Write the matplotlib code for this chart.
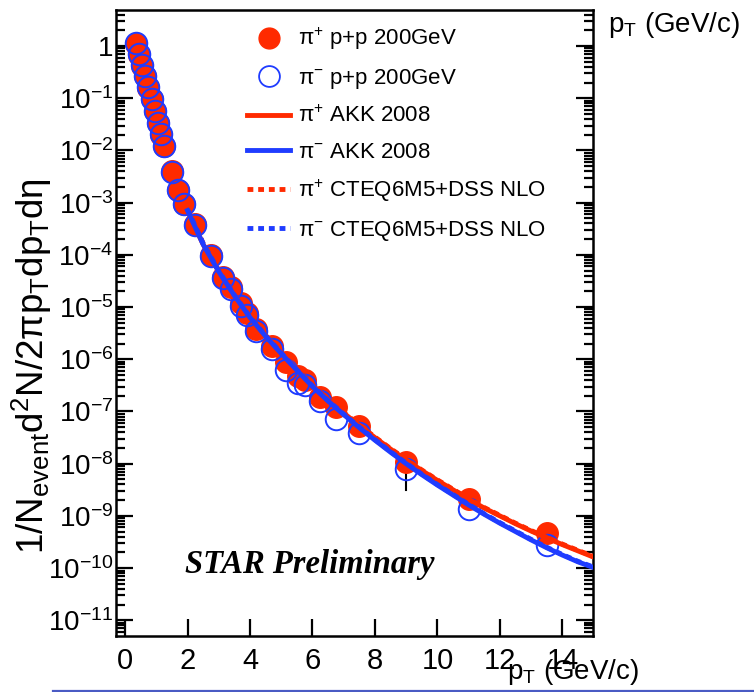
import numpy as np
import matplotlib
matplotlib.use("Agg")
import matplotlib.pyplot as plt
from matplotlib.lines import Line2D
from matplotlib.ticker import FixedLocator, FuncFormatter, LogLocator, NullFormatter

plt.rcParams['font.family'] = ['Liberation Sans', 'DejaVu Sans']
plt.rcParams['mathtext.fontset'] = 'custom'
plt.rcParams['mathtext.rm'] = 'Liberation Sans'
plt.rcParams['mathtext.it'] = 'Liberation Sans:italic'
plt.rcParams['mathtext.bf'] = 'Liberation Sans:bold'

# ---------------- data ----------------
pt_data = [0.35, 0.45, 0.55, 0.65, 0.75, 0.85, 0.95, 1.05, 1.15, 1.25,
           1.5, 1.7, 1.9, 2.25, 2.75, 3.15, 3.4, 3.7, 3.9, 4.2,
           4.7, 5.15, 5.55, 5.75, 6.25, 6.75, 7.5, 9.0, 11.0, 13.5]
log_piplus = [0.04, -0.17, -0.38, -0.58, -0.80, -1.02, -1.25, -1.48, -1.70, -1.92,
              -2.40, -2.75, -3.02, -3.40, -4.00, -4.42, -4.62, -4.93, -5.12, -5.42,
              -5.74, -6.06, -6.32, -6.40, -6.72, -6.92, -7.28, -7.97, -8.67, -9.32]
log_piminus = [0.06, -0.15, -0.37, -0.57, -0.79, -1.01, -1.24, -1.47, -1.69, -1.91,
               -2.42, -2.76, -3.03, -3.42, -4.02, -4.45, -4.66, -4.97, -5.16, -5.46,
               -5.80, -6.20, -6.45, -6.50, -6.80, -7.15, -7.42, -8.10, -8.86, -9.56]
# lower end of the one visible error bar (pi+ at 9 GeV/c)
err_pt = [9.0]
err_log_low = [-8.50]

pt_theory = [2.0, 2.5, 3.0, 3.5, 4.0, 4.5, 5.0, 5.5, 6.0, 6.5, 7.0, 7.5, 8.0, 8.5,
             9.0, 9.5, 10.0, 10.5, 11.0, 11.5, 12.0, 12.5, 13.0, 13.5, 14.0, 14.5, 15.0]
log_akk_plus = [-3.15, -3.80, -4.32, -4.78, -5.20, -5.55, -5.88, -6.20, -6.50, -6.78,
                -7.03, -7.27, -7.50, -7.72, -7.93, -8.13, -8.32, -8.50, -8.68, -8.85,
                -9.00, -9.15, -9.29, -9.42, -9.55, -9.67, -9.79]
log_akk_minus = [-3.15, -3.80, -4.32, -4.78, -5.20, -5.56, -5.89, -6.21, -6.52, -6.80,
                 -7.06, -7.31, -7.55, -7.78, -8.00, -8.21, -8.41, -8.60, -8.79, -8.97,
                 -9.14, -9.30, -9.46, -9.61, -9.75, -9.88, -9.99]
log_cteq_plus = [-3.13, -3.78, -4.30, -4.76, -5.18, -5.54, -5.87, -6.19, -6.49, -6.77,
                 -7.02, -7.26, -7.49, -7.71, -7.92, -8.12, -8.31, -8.49, -8.67, -8.84,
                 -8.99, -9.14, -9.28, -9.41, -9.54, -9.66, -9.78]
log_cteq_minus = [-3.13, -3.78, -4.31, -4.77, -5.19, -5.55, -5.88, -6.20, -6.51, -6.79,
                  -7.05, -7.30, -7.54, -7.77, -7.99, -8.20, -8.40, -8.59, -8.78, -8.96,
                  -9.13, -9.29, -9.45, -9.60, -9.74, -9.87, -9.98]

legend_labels = [r"π$^{+}$ p+p 200GeV", r"π$^{-}$ p+p 200GeV", r"π$^{+}$ AKK 2008",
                 r"π$^{-}$ AKK 2008", r"π$^{+}$ CTEQ6M5+DSS NLO", r"π$^{-}$ CTEQ6M5+DSS NLO"]
xticks = [0, 2, 4, 6, 8, 10, 12, 14]

RED = '#ff2a00'
BLUE = '#1f3cff'

W, H = 754, 692
fig = plt.figure(figsize=(W / 100, H / 100), dpi=100)
L, R, T, B = 116, 593, 10, 636
ax = fig.add_axes([L / W, 1 - B / H, (R - L) / W, (B - T) / H])

y_plus = 10.0 ** np.array(log_piplus)
y_minus = 10.0 ** np.array(log_piminus)

# error bar
for p, lo in zip(err_pt, err_log_low):
    idx = pt_data.index(p)
    ax.plot([p, p], [10.0 ** lo, y_plus[idx]], color='black', lw=1.5, zorder=1)

ax.plot(pt_data, y_plus, 'o', ms=15.5, mfc=RED, mec=RED, mew=1.0, zorder=2)
ax.plot(pt_data, y_minus, 'o', ms=15.5, mfc='none', mec=BLUE, mew=1.4, zorder=3)

dot = (0, (1.2, 1.0))
ax.plot(pt_theory, 10.0 ** np.array(log_cteq_plus), color=RED, lw=3.5, ls=dot, zorder=4)
ax.plot(pt_theory, 10.0 ** np.array(log_akk_plus), color=RED, lw=3.5, zorder=4)
ax.plot(pt_theory, 10.0 ** np.array(log_cteq_minus), color=BLUE, lw=3.5, ls=dot, zorder=5)
ax.plot(pt_theory, 10.0 ** np.array(log_akk_minus), color=BLUE, lw=3.5, zorder=5)

ax.set_yscale('log')
ax.set_xlim(-0.29, 14.98)
ax.set_ylim(10 ** -11.30, 10 ** 0.69)

ax.xaxis.set_major_locator(FixedLocator(xticks))
ax.yaxis.set_major_locator(LogLocator(base=10, numticks=30))
ax.yaxis.set_minor_locator(LogLocator(base=10, subs=np.arange(2, 10), numticks=30))
ax.yaxis.set_minor_formatter(NullFormatter())


def yfmt(v, pos):
    n = int(round(np.log10(v)))
    if n == 0:
        return '1'
    return r'10$^{%d}$' % n


ax.yaxis.set_major_formatter(FuncFormatter(yfmt))
ax.tick_params(axis='both', which='both', direction='in', width=1.6)
ax.tick_params(axis='y', which='major', length=12, labelsize=20, left=True, right=True, pad=2)
ax.tick_params(axis='y', which='minor', length=6.5, left=True, right=True)
ax.tick_params(axis='x', which='major', length=12, labelsize=21, top=False, pad=8)
for s in ax.spines.values():
    s.set_linewidth(1.8)

ax.set_ylabel(r"1/N$_{\rm event}$d$^{2}$N/2πp$_{\rm T}$dp$_{\rm T}$dη", fontsize=26.5)
ax.yaxis.set_label_coords((54 - L) / (R - L), 1 - (366 - T) / (B - T))

handles = [
    Line2D([], [], ls='none', marker='o', ms=15, mfc=RED, mec=RED),
    Line2D([], [], ls='none', marker='o', ms=15, mfc='none', mec=BLUE, mew=1.3),
    Line2D([], [], color=RED, lw=3.5),
    Line2D([], [], color=BLUE, lw=3.5),
    Line2D([], [], color=RED, lw=3.5, ls=dot),
    Line2D([], [], color=BLUE, lw=3.5, ls=dot),
]
leg = ax.legend(handles, legend_labels, loc='upper left',
                bbox_to_anchor=((247 - L) / (R - L), 1 - (26 - T) / (B - T)),
                frameon=False, fontsize=16, handlelength=1.95, handletextpad=0.35,
                labelspacing=0.66, borderpad=0, borderaxespad=0)

ax.text((185 - L) / (R - L), 1 - (565 - T) / (B - T), "STAR Preliminary",
        transform=ax.transAxes, fontsize=23.5, family='Liberation Serif',
        weight='bold', style='italic', va='center', ha='left')

fig.text(608 / W, 1 - 25 / H, r"p$_{\rm T}$ (GeV/c)", fontsize=20, ha='left', va='center')
fig.text(507 / W, 1 - 672 / H, r"p$_{\rm T}$ (GeV/c)", fontsize=20, ha='left', va='center')
fig.add_artist(Line2D([53 / W, 1.0], [1 - 690.5 / H, 1 - 690.5 / H],
                      transform=fig.transFigure, color='#4a5bc4', lw=1.6))

fig.savefig('out.png', dpi=100)
